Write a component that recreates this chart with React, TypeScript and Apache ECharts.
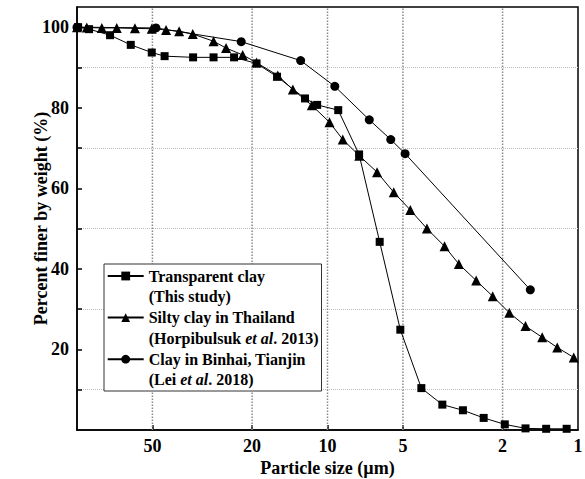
import React, { useEffect, useRef } from "react";
import * as echarts from "echarts";

const FONT = '"Liberation Serif", "Times New Roman", Times, serif';

const seriesNames = ["Transparent clay", "Silty clay in Thailand", "Clay in Binhai, Tianjin"];
const legendNotes = ["(This study)", "(Horpibulsuk {i|et al}. 2013)", "(Lei {i|et al}. 2018)"];

// Transparent clay (This study)
const claySize = [99, 89.5, 73.8, 61.0, 50.3, 44.7, 34.4, 28.5, 23.6, 19.2, 15.9, 12.3, 11.0, 9.06, 7.48, 6.19, 5.12, 4.22, 3.48, 2.88, 2.38, 1.96, 1.62, 1.34, 1.11];
const clayFiner = [100, 99.5, 98.0, 95.6, 93.7, 92.8, 92.5, 92.5, 92.5, 91.0, 87.7, 82.3, 80.7, 79.4, 68.4, 46.7, 24.9, 10.4, 6.3, 4.9, 3.0, 1.4, 0.4, 0.3, 0.3];

// Silty clay in Thailand (Horpibulsuk et al. 2013)
const siltSize = [100, 91.4, 79.6, 69.4, 58.7, 50.3, 44.1, 39.1, 34.5, 28.5, 25.4, 21.8, 19.2, 15.8, 13.75, 11.55, 9.82, 8.69, 7.47, 6.34, 5.44, 4.67, 4.01, 3.41, 2.99, 2.55, 2.19, 1.88, 1.62, 1.39, 1.21, 1.04];
const siltFiner = [100, 99.9, 99.8, 99.8, 99.7, 99.6, 99.3, 99.0, 98.3, 96.5, 94.8, 93.1, 91.2, 88.0, 84.5, 80.6, 76.4, 72.1, 68.1, 64.0, 59.0, 54.6, 50.0, 45.6, 41.2, 37.1, 33.2, 29.1, 25.8, 23.0, 20.5, 18.0];

// Clay in Binhai, Tianjin (Lei et al. 2018)
const binhaiSize = [100, 48.4, 22.1, 12.8, 9.35, 6.81, 5.59, 4.9, 1.55];
const binhaiFiner = [100, 99.8, 96.4, 91.7, 85.3, 77.0, 72.1, 68.6, 34.8];

const X_MIN = 1;
const X_MAX = 100;
const Y_MIN = 0;
const Y_MAX = 105;
const xTickValues = [50, 20, 10, 5, 2];
const xLabelValues = [50, 20, 10, 5, 2, 1];
const yTickValues = [10, 20, 30, 40, 50, 60, 70, 80, 90, 100];
const yLabelValues = [20, 40, 60, 80, 100];
const yGridValues = [10, 30, 50, 70, 90];

const pairs = (xs: number[], ys: number[]) => xs.map((x, i) => [x, ys[i]]);

export default function App() {
  const ref = useRef<HTMLDivElement>(null);
  useEffect(() => {
    if (!ref.current) return;
    const chart = echarts.init(ref.current, null, { renderer: "svg" });
    const boldText = { fontFamily: FONT, fontWeight: "bold" as const, color: "#000" };
    const gridLine = { type: "dotted" as const, color: "#bdbdbd", width: 1 };
    // vertical grid lines at the labelled particle sizes
    const xGridSeries = xTickValues.map((v) => ({
      name: "grid-" + v, type: "line", silent: true, z: 1,
      symbol: "none", showSymbol: false, data: [[v, Y_MIN], [v, Y_MAX]],
      itemStyle: { color: "#8a8a8a" },
      lineStyle: { type: "dotted", color: "#8a8a8a", width: 1.5 },
    }));
    const option: any = {
      animation: false,
      textStyle: { fontFamily: FONT },
      grid: {
        left: 77, right: 7, top: 7, bottom: 49,
        show: true, borderColor: "#000", borderWidth: 1.5,
        containLabel: false, outerBoundsMode: "none",
      },
      xAxis: {
        type: "log", logBase: 10, min: X_MIN, max: X_MAX, inverse: true,
        name: "Particle size (µm)", nameLocation: "middle", nameGap: 29, nameMoveOverlap: false,
        nameTextStyle: { ...boldText, fontSize: 18 },
        axisLine: { show: true, onZero: false, lineStyle: { color: "#000", width: 1.5 } },
        axisTick: { show: true, inside: true, length: 5, customValues: xTickValues, lineStyle: { color: "#000", width: 1.5 } },
        axisLabel: { ...boldText, fontSize: 18, margin: 7, customValues: xLabelValues, formatter: (v: number) => String(v) },
        splitLine: { show: false },
        minorTick: { show: false }, minorSplitLine: { show: false },
      },
      yAxis: [
        {
          type: "value", min: Y_MIN, max: Y_MAX,
          name: "Percent finer by weight (%)", nameLocation: "middle", nameGap: 27, nameMoveOverlap: false,
          nameTextStyle: { ...boldText, fontSize: 18 },
          axisLine: { show: true, onZero: false, lineStyle: { color: "#000", width: 1.5 } },
          axisTick: { show: true, inside: true, length: 5, customValues: yTickValues, lineStyle: { color: "#000", width: 1.5 } },
          axisLabel: { ...boldText, fontSize: 18, margin: 8, customValues: yLabelValues, formatter: (v: number) => String(v) },
          splitLine: { show: false },
        },
        {
          type: "value", min: Y_MIN, max: Y_MAX, position: "left",
          axisLine: { show: false },
          axisTick: { show: false, customValues: yGridValues },
          axisLabel: { show: false, customValues: yGridValues },
          splitLine: { show: true, lineStyle: gridLine },
        },
      ],
      legend: {
        data: seriesNames,
        orient: "vertical", left: 104, top: 264,
        padding: [-19.2, 3, 0.6, 2.7],
        itemGap: -20.8, itemWidth: 36, itemHeight: 11,
        borderColor: "#333", borderWidth: 1, backgroundColor: "#fff",
        selectedMode: false,
        formatter: (name: string) => name + "\n" + legendNotes[seriesNames.indexOf(name)],
        textStyle: {
          ...boldText, fontSize: 16, lineHeight: 20.8,
          padding: [20.8, 0, 0, 0],
          rich: { i: { fontFamily: FONT, fontWeight: "bold", fontStyle: "italic", fontSize: 16, lineHeight: 20.8, color: "#000" } },
        },
      },
      series: [
        ...xGridSeries,
        {
          name: seriesNames[0], type: "line", data: pairs(claySize, clayFiner),
          symbol: "rect", symbolSize: 8, z: 4,
          itemStyle: { color: "#000" }, lineStyle: { color: "#000", width: 1 },
        },
        {
          name: seriesNames[1], type: "line", data: pairs(siltSize, siltFiner),
          symbol: "triangle", symbolSize: 10, z: 3,
          itemStyle: { color: "#000" }, lineStyle: { color: "#000", width: 1 },
        },
        {
          name: seriesNames[2], type: "line", data: pairs(binhaiSize, binhaiFiner),
          symbol: "circle", symbolSize: 9, z: 2,
          itemStyle: { color: "#000" }, lineStyle: { color: "#000", width: 1 },
        },
      ],
    };
    chart.setOption(option);
    return () => chart.dispose();
  }, []);
  return <div ref={ref} style={{ position: "absolute", left: 0, top: 0, width: 585, height: 479, background: "#fff" }} />;
}
